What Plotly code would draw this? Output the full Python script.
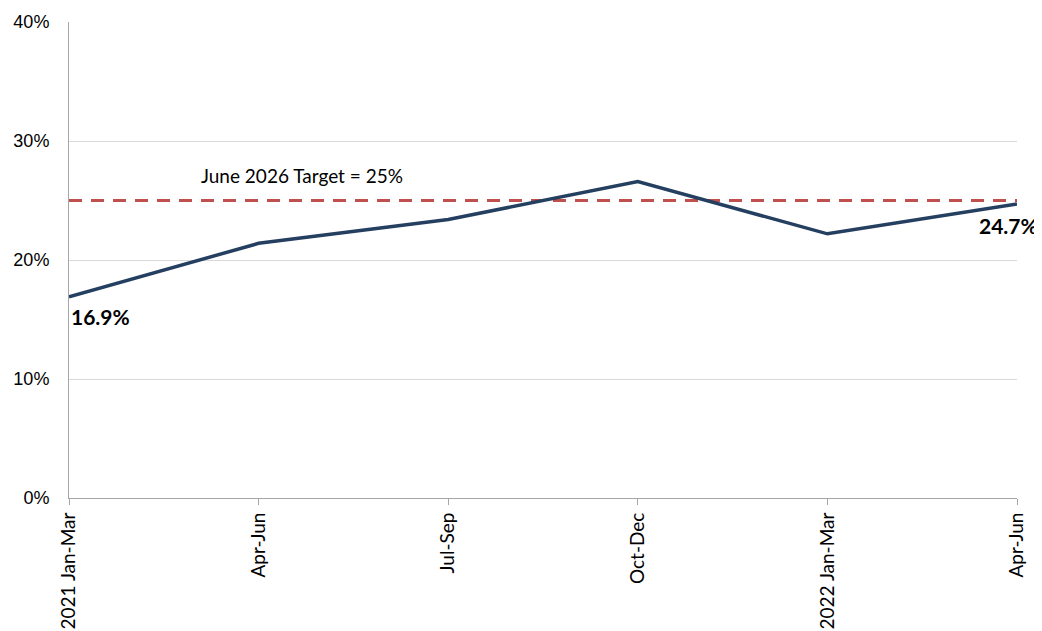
import plotly.graph_objects as go

# Data
quarters = ["2021 Jan-Mar", "Apr-Jun", "Jul-Sep", "Oct-Dec", "2022 Jan-Mar", "Apr-Jun"]
share_pct = [16.9, 21.4, 23.4, 26.6, 22.2, 24.7]
target_pct = 25
y_ticks = [0, 10, 20, 30, 40]

x_idx = list(range(len(quarters)))
label_font = "Lato, sans-serif"

fig = go.Figure()

# Target line
fig.add_trace(go.Scatter(
    x=[x_idx[0], x_idx[-1]], y=[target_pct, target_pct], mode="lines",
    line=dict(color="#C0504D", width=3, dash="13px,9px"),
    hoverinfo="skip", showlegend=False
))

# Main series
fig.add_trace(go.Scatter(
    x=x_idx, y=share_pct, mode="lines",
    line=dict(color="#243F60", width=3.5),
    hovertemplate="%{y:.1f}%<extra></extra>", showlegend=False
))

fig.add_annotation(x=1.23, y=target_pct, yshift=25, text=f"June 2026 Target = {target_pct}%",
                   showarrow=False, font=dict(size=19, color="#000000", family=label_font))
fig.add_annotation(x=x_idx[0], y=share_pct[0], yshift=-20, xanchor="left",
                   text=f"<b>{share_pct[0]}%</b>", showarrow=False,
                   font=dict(size=21, color="#000000", family=label_font))
fig.add_annotation(x=x_idx[-1], y=share_pct[-1], yshift=-21, xanchor="center", xshift=-9,
                   text=f"<b>{share_pct[-1]}%</b>", showarrow=False,
                   font=dict(size=21, color="#000000", family=label_font))

fig.update_layout(
    width=1042, height=631,
    margin=dict(l=61, r=33, t=14, b=141),
    paper_bgcolor="#ffffff", plot_bgcolor="#ffffff",
    font=dict(family="'Liberation Sans', Arial, sans-serif", color="#000000"),
)
fig.update_xaxes(
    range=[0, len(quarters) - 1], tickvals=x_idx, ticktext=quarters,
    tickangle=-90, tickfont=dict(size=19, family=label_font, color="#000000"),
    showgrid=False, showline=True, linecolor="#A6A6A6", linewidth=1,
    ticks="outside", ticklen=6, tickcolor="#A6A6A6", zeroline=False, automargin=False
)
fig.update_yaxes(
    range=[0, 40], tickvals=y_ticks, ticktext=[f"{v}%" for v in y_ticks],
    tickfont=dict(size=18, family="'Liberation Sans', Arial, sans-serif", color="#000000"),
    ticklabelstandoff=15,
    showgrid=True, gridcolor="#D9D9D9", gridwidth=1,
    showline=True, linecolor="#A6A6A6", linewidth=1, zeroline=False, ticks="", automargin=False
)

fig.write_html("out.html")
